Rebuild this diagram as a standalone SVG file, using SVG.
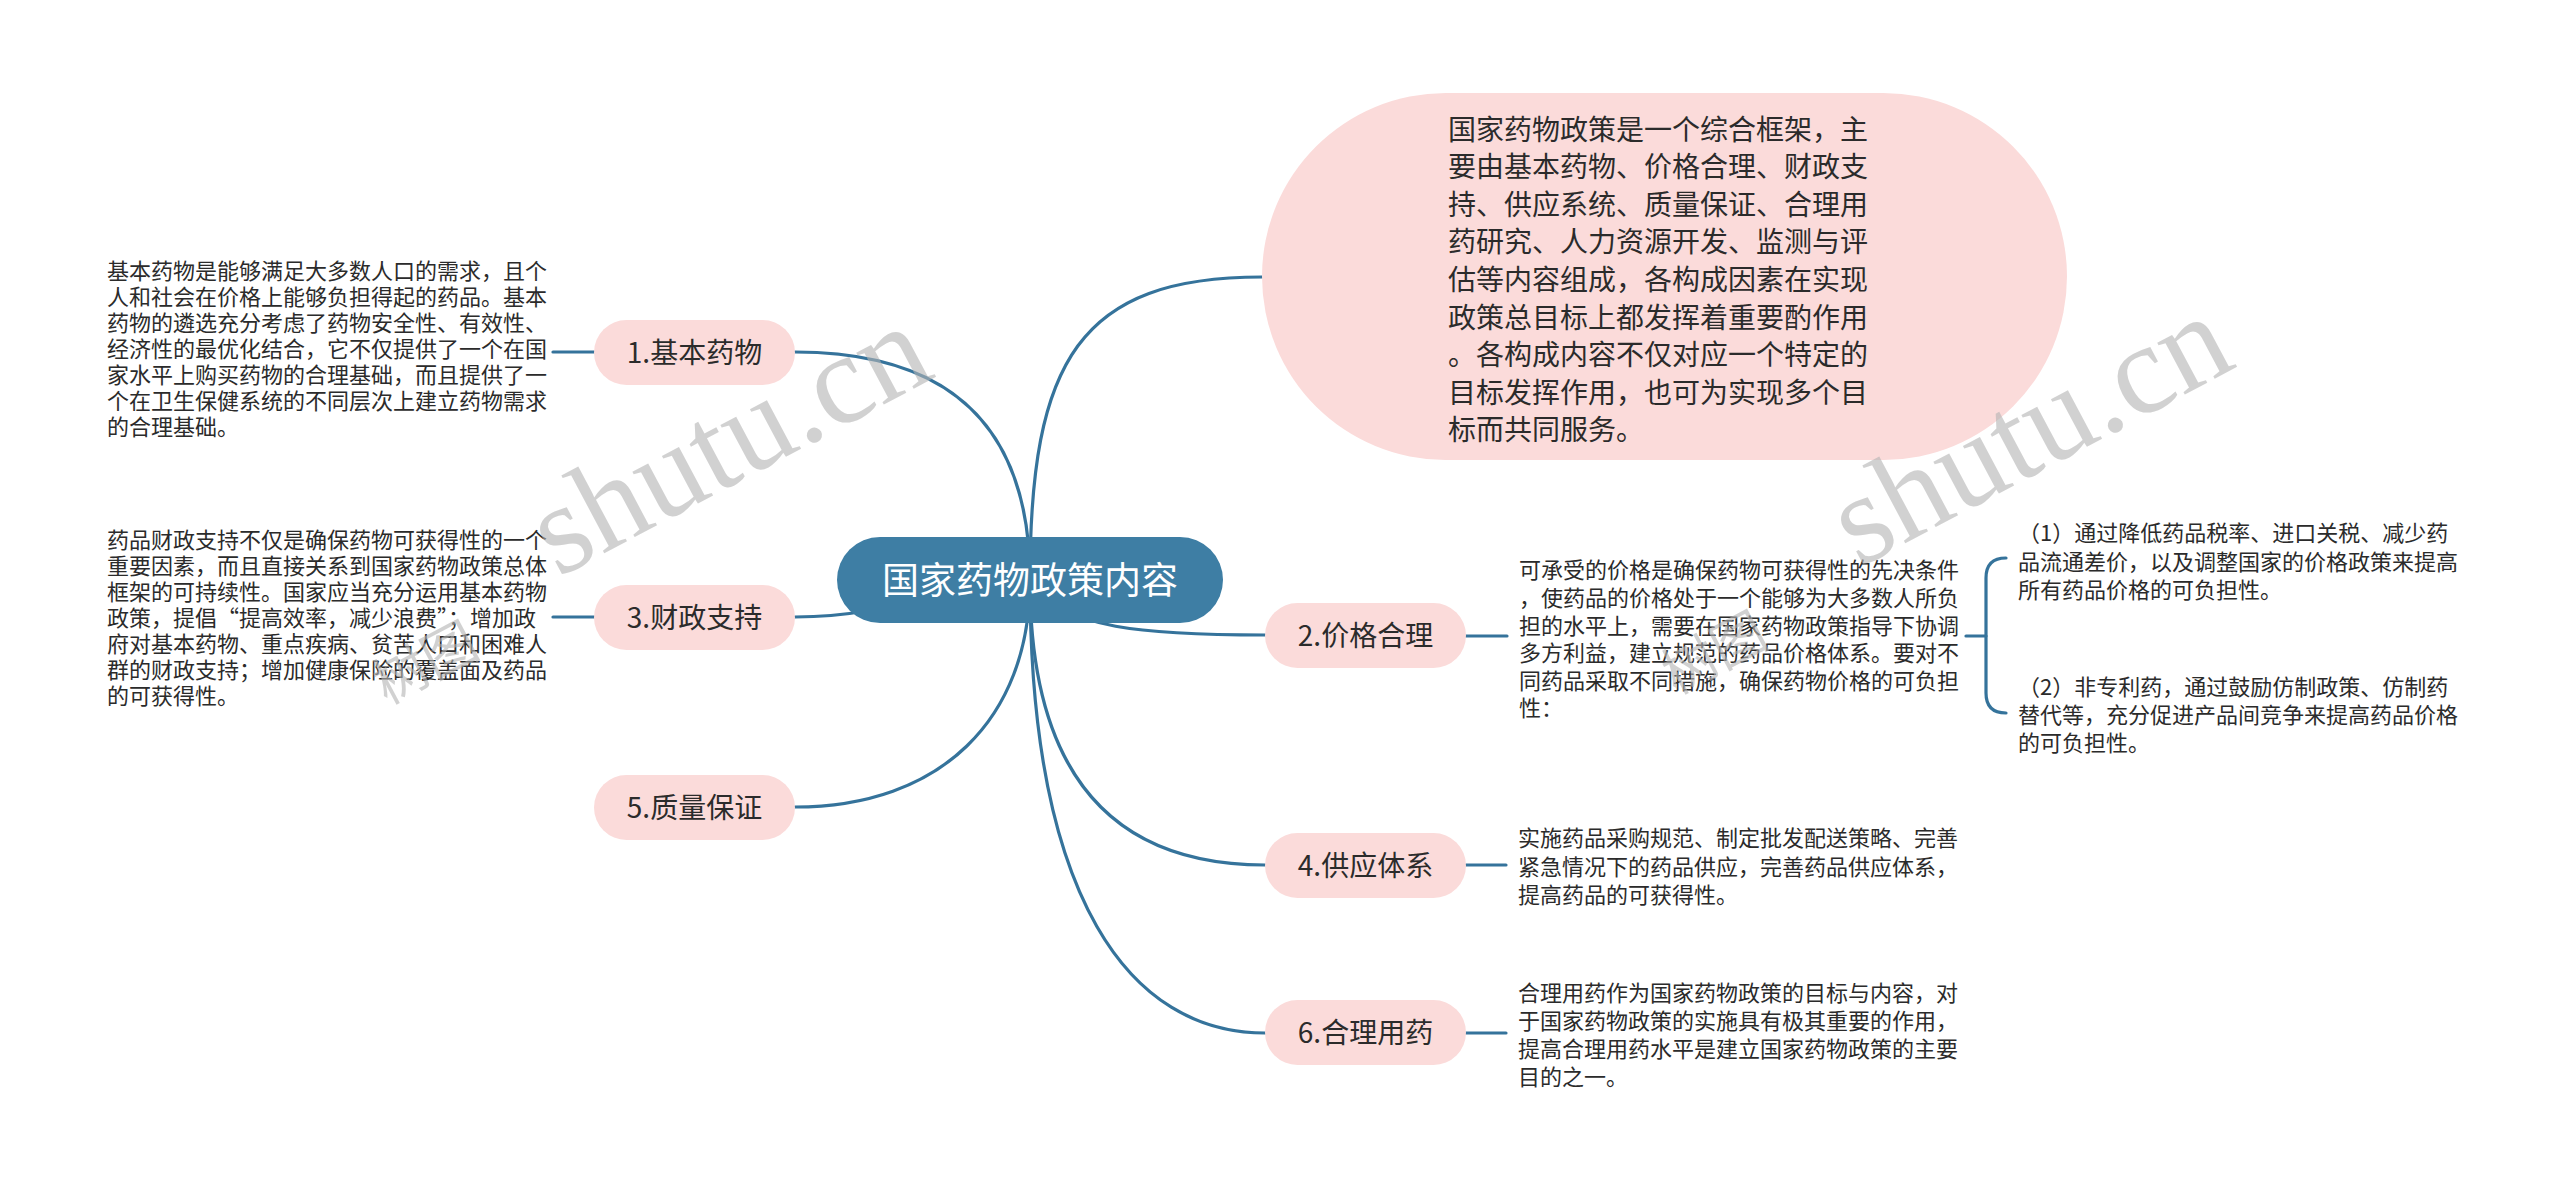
<svg xmlns="http://www.w3.org/2000/svg" width="2560" height="1194" viewBox="0 0 2560 1194">
<style>
.bg{fill:#ffffff}
.ln{fill:none;stroke:#35739b;stroke-width:3.2;stroke-linecap:round}
.sub{fill:#fbdbda}
.lbl{font-family:"Noto Sans CJK SC","Noto Sans",sans-serif;font-size:28px;fill:#2b2b2b;text-anchor:middle}
.txt{font-family:"Noto Sans CJK SC","Noto Sans",sans-serif;font-size:22px;fill:#2b2b2b}
.big{font-family:"Noto Sans CJK SC","Noto Sans",sans-serif;font-size:28px;fill:#2b2b2b}
.wm{font-family:"Liberation Serif",serif;font-size:128px;fill:#b4b4b4;opacity:0.6}
.wmc{font-family:"Noto Sans CJK SC",sans-serif;font-size:54px;fill:#b4b4b4;opacity:0.6;text-anchor:middle}
</style>
<rect class="bg" x="0" y="0" width="2560" height="1194"/>
<g id="connectors">
<path class="ln" d="M1030,580 C1030,360 1080,277 1262,277"/>
<path class="ln" d="M1030,580 C1030,400 920,352 795,352"/>
<path class="ln" d="M1030,580 C950,580 900,617 795,617"/>
<path class="ln" d="M1030,580 C1030,720 940,807 795,807"/>
<path class="ln" d="M1030,580 C1060,630 1150,635 1265,635"/>
<path class="ln" d="M1030,580 C1030,760 1100,865 1265,865"/>
<path class="ln" d="M1030,580 C1030,900 1130,1033 1265,1033"/>
<path class="ln" d="M553,352 L594,352"/>
<path class="ln" d="M553,617 L594,617"/>
<path class="ln" d="M1466,636 L1507,636"/>
<path class="ln" d="M1466,865 L1506,865"/>
<path class="ln" d="M1466,1033 L1506,1033"/>
<path class="ln" d="M1966,636 L1986,636"/>
<path class="ln" d="M2006,558 Q1986,558 1986,578 L1986,693 Q1986,713 2006,713"/>
</g>
<g id="root">
<rect x="837" y="537" width="386" height="86" rx="43" fill="#3e7ea4"/>
<text x="1030" y="594" font-family="Noto Sans CJK SC, sans-serif" font-size="37" fill="#ffffff" text-anchor="middle">国家药物政策内容</text>
</g>
<g id="overview">
<rect class="sub" x="1262" y="93" width="805" height="367" rx="183.5"/>
<text class="big" x="1448">
<tspan x="1448" y="139.6">国家药物政策是一个综合框架，主</tspan>
<tspan x="1448" y="177.2">要由基本药物、价格合理、财政支</tspan>
<tspan x="1448" y="214.8">持、供应系统、质量保证、合理用</tspan>
<tspan x="1448" y="252.4">药研究、人力资源开发、监测与评</tspan>
<tspan x="1448" y="290">估等内容组成，各构成因素在实现</tspan>
<tspan x="1448" y="327.6">政策总目标上都发挥着重要酌作用</tspan>
<tspan x="1448" y="365.2">。各构成内容不仅对应一个特定的</tspan>
<tspan x="1448" y="402.8">目标发挥作用，也可为实现多个目</tspan>
<tspan x="1448" y="440.4">标而共同服务。</tspan>
</text>
</g>
<g id="n1">
<rect class="sub" x="594" y="320" width="201" height="65" rx="32.5"/>
<text class="lbl" x="694.5" y="362.5">1.基本药物</text>
</g>
<g id="n1-desc">
<text class="txt">
<tspan x="107" y="279">基本药物是能够满足大多数人口的需求，且个</tspan>
<tspan x="107" y="305">人和社会在价格上能够负担得起的药品。基本</tspan>
<tspan x="107" y="331">药物的遴选充分考虑了药物安全性、有效性、</tspan>
<tspan x="107" y="357">经济性的最优化结合，它不仅提供了一个在国</tspan>
<tspan x="107" y="383">家水平上购买药物的合理基础，而且提供了一</tspan>
<tspan x="107" y="409">个在卫生保健系统的不同层次上建立药物需求</tspan>
<tspan x="107" y="435">的合理基础。</tspan>
</text>
</g>
<g id="n3">
<rect class="sub" x="594" y="585" width="201" height="65" rx="32.5"/>
<text class="lbl" x="694.5" y="627.5">3.财政支持</text>
</g>
<g id="n3-desc">
<text class="txt">
<tspan x="107" y="547.5">药品财政支持不仅是确保药物可获得性的一个</tspan>
<tspan x="107" y="573.5">重要因素，而且直接关系到国家药物政策总体</tspan>
<tspan x="107" y="599.5">框架的可持续性。国家应当充分运用基本药物</tspan>
<tspan x="107" y="625.5">政策，提倡“提高效率，减少浪费”；增加政</tspan>
<tspan x="107" y="651.5">府对基本药物、重点疾病、贫苦人口和困难人</tspan>
<tspan x="107" y="677.5">群的财政支持；增加健康保险的覆盖面及药品</tspan>
<tspan x="107" y="703.5">的可获得性。</tspan>
</text>
</g>
<g id="n5">
<rect class="sub" x="594" y="775" width="201" height="65" rx="32.5"/>
<text class="lbl" x="694.5" y="817.5">5.质量保证</text>
</g>
<g id="n2">
<rect class="sub" x="1265" y="603" width="201" height="65" rx="32.5"/>
<text class="lbl" x="1365.5" y="645.5">2.价格合理</text>
</g>
<g id="n2-desc">
<text class="txt">
<tspan x="1519" y="578">可承受的价格是确保药物可获得性的先决条件</tspan>
<tspan x="1519" y="606">，使药品的价格处于一个能够为大多数人所负</tspan>
<tspan x="1519" y="634">担的水平上，需要在国家药物政策指导下协调</tspan>
<tspan x="1519" y="661">多方利益，建立规范的药品价格体系。要对不</tspan>
<tspan x="1519" y="689">同药品采取不同措施，确保药物价格的可负担</tspan>
<tspan x="1519" y="716">性：</tspan>
</text>
</g>
<g id="n2-sub1">
<text class="txt">
<tspan x="2018" y="541">（1）通过降低药品税率、进口关税、减少药</tspan>
<tspan x="2018" y="570">品流通差价，以及调整国家的价格政策来提高</tspan>
<tspan x="2018" y="598">所有药品价格的可负担性。</tspan>
</text>
</g>
<g id="n2-sub2">
<text class="txt">
<tspan x="2018" y="695">（2）非专利药，通过鼓励仿制政策、仿制药</tspan>
<tspan x="2018" y="723">替代等，充分促进产品间竞争来提高药品价格</tspan>
<tspan x="2018" y="751">的可负担性。</tspan>
</text>
</g>
<g id="n4">
<rect class="sub" x="1265" y="833" width="201" height="65" rx="32.5"/>
<text class="lbl" x="1365.5" y="875.5">4.供应体系</text>
</g>
<g id="n4-desc">
<text class="txt">
<tspan x="1518" y="846">实施药品采购规范、制定批发配送策略、完善</tspan>
<tspan x="1518" y="875">紧急情况下的药品供应，完善药品供应体系，</tspan>
<tspan x="1518" y="903">提高药品的可获得性。</tspan>
</text>
</g>
<g id="n6">
<rect class="sub" x="1265" y="1000" width="201" height="65" rx="32.5"/>
<text class="lbl" x="1365.5" y="1042.5">6.合理用药</text>
</g>
<g id="n6-desc">
<text class="txt">
<tspan x="1518" y="1001">合理用药作为国家药物政策的目标与内容，对</tspan>
<tspan x="1518" y="1029">于国家药物政策的实施具有极其重要的作用，</tspan>
<tspan x="1518" y="1057">提高合理用药水平是建立国家药物政策的主要</tspan>
<tspan x="1518" y="1085">目的之一。</tspan>
</text>
</g>
<g id="watermark">
<text class="wm" transform="translate(558,578) rotate(-28)">shutu.cn</text>
<text class="wmc" transform="translate(425,662) rotate(-28)" y="20">树图</text>
<text class="wm" transform="translate(1859,568) rotate(-28)">shutu.cn</text>
<text class="wmc" transform="translate(1714,652) rotate(-28)" y="20">树图</text>
</g>
</svg>
